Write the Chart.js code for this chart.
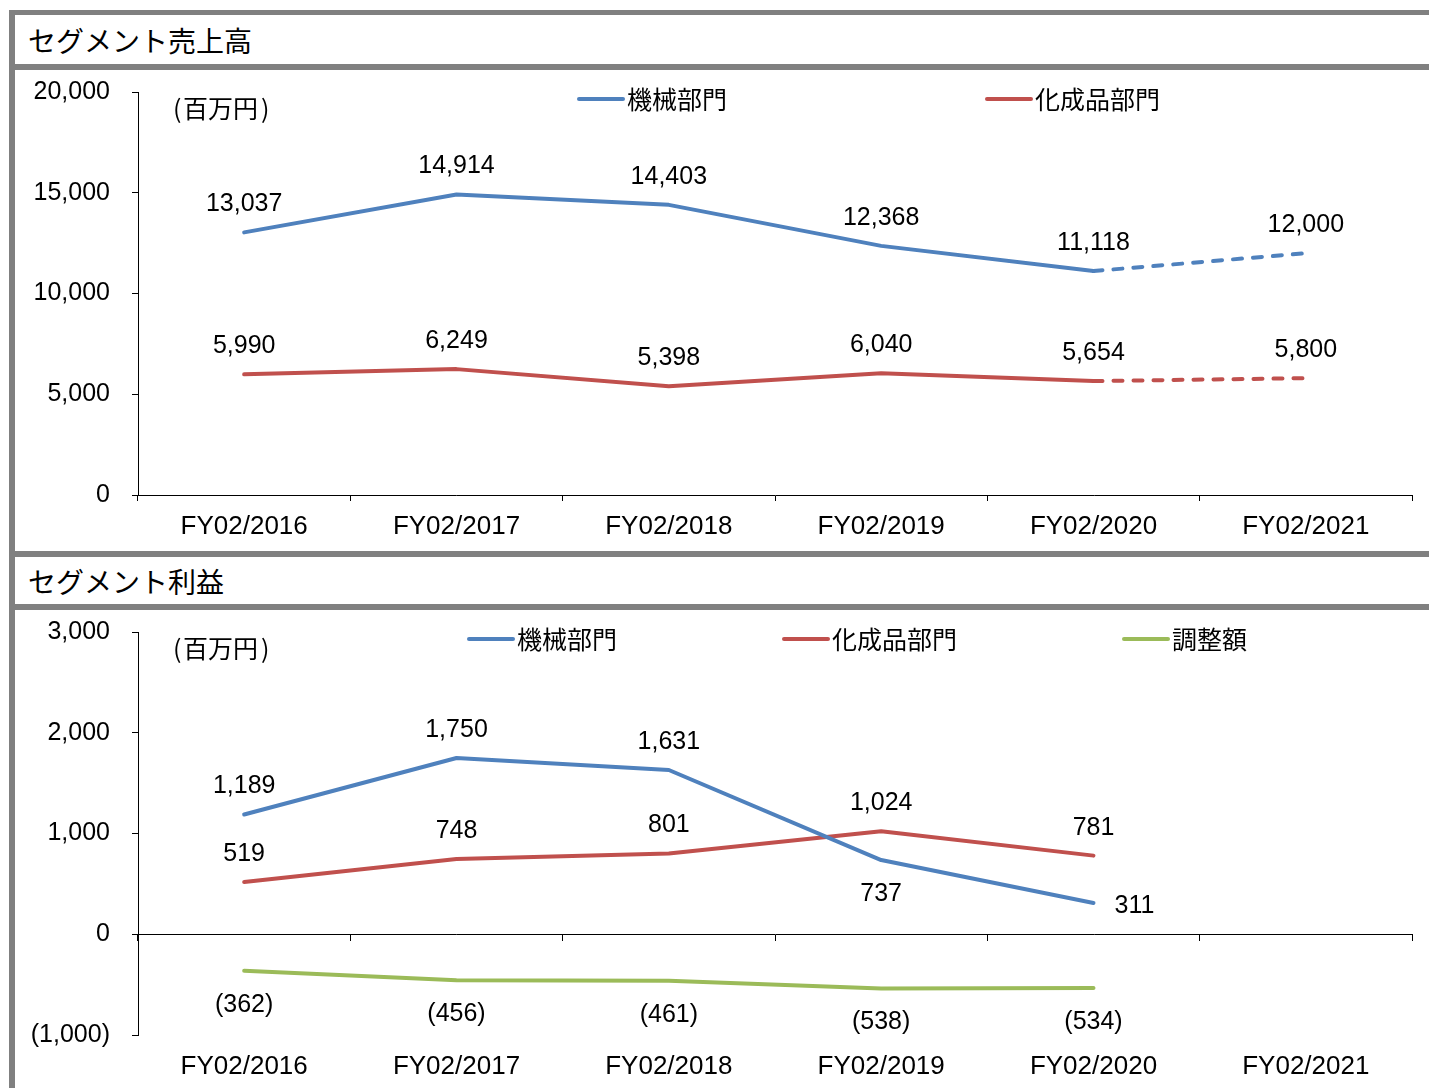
<!DOCTYPE html>
<html>
<head>
<meta charset="utf-8">
<script src="https://cdn.jsdelivr.net/npm/chart.js@4.4.0/dist/chart.umd.min.js"></script>
<style>
  body { margin: 0; background: #fff; width: 1429px; height: 1088px; overflow: hidden; position: relative; }
  .bar { position: absolute; background: #808080; }
  .title { position: absolute; left: 15px; width: 1414px; display: flex; align-items: center;
           font-family: "Noto Sans CJK JP", sans-serif; font-size: 28px; color: #000; padding-left: 13px; box-sizing: border-box; }
  .box { position: absolute; left: 15px; }
  canvas { display: block; }
</style>
</head>
<body>
<div class="bar" style="left:9px; top:10px; width:6px; height:1078px;"></div>
<div class="bar" style="left:9px; top:10px; width:1420px; height:5px;"></div>
<div class="title" style="top:15px; height:49px;">セグメント売上高</div>
<div class="bar" style="left:9px; top:64px; width:1420px; height:6px;"></div>
<div class="box" style="top:70px;"><canvas id="c1" width="1414" height="481"></canvas></div>
<div class="bar" style="left:9px; top:551px; width:1420px; height:6px;"></div>
<div class="title" style="top:557px; height:47px;">セグメント利益</div>
<div class="bar" style="left:9px; top:604px; width:1420px; height:6px;"></div>
<div class="box" style="top:610px;"><canvas id="c2" width="1414" height="478"></canvas></div>

<script>
// データ
const years = ['FY02/2016', 'FY02/2017', 'FY02/2018', 'FY02/2019', 'FY02/2020', 'FY02/2021'];
const seriesNames = ['機械部門', '化成品部門', '調整額'];

// セグメント売上高（百万円）
const salesMachinery = [13037, 14914, 14403, 12368, 11118, 12000];
const salesChemical = [5990, 6249, 5398, 6040, 5654, 5800];

// セグメント利益（百万円）
const profitMachinery = [1189, 1750, 1631, 737, 311, null];
const profitChemical = [519, 748, 801, 1024, 781, null];
const profitAdjust = [-362, -456, -461, -538, -534, null];

const BLUE = '#4F81BD';
const RED = '#C0504D';
const GREEN = '#9BBB59';
const numFont = '"Liberation Sans", Arial, "Noto Sans CJK JP", sans-serif';
const jpFont = '"Noto Sans CJK JP", "Liberation Sans", sans-serif';

function fmt(v) {
  const s = Math.abs(v).toLocaleString('en-US');
  return v < 0 ? '(' + s + ')' : s;
}

// 凡例と単位
const legendPlugin = {
  id: 'segLegend',
  afterDraw(chart, args, opts) {
    const ctx = chart.ctx;
    ctx.save();
    chart.data.datasets.forEach((ds, i) => {
      const x = opts.xs[i];
      ctx.strokeStyle = ds.borderColor;
      ctx.lineWidth = 4;
      ctx.lineCap = 'round';
      ctx.beginPath();
      ctx.moveTo(x + 2, opts.y);
      ctx.lineTo(x + 46, opts.y);
      ctx.stroke();
      ctx.fillStyle = '#000';
      ctx.font = '25px ' + jpFont;
      ctx.textAlign = 'left';
      ctx.textBaseline = 'middle';
      ctx.fillText(ds.label, x + 50, opts.y);
    });
    ctx.font = '25px ' + jpFont;
    ctx.fillText('(', opts.unitX, opts.unitY);
    ctx.fillText('百万円', opts.unitX + 10, opts.unitY);
    ctx.fillText(')', opts.unitX + 88, opts.unitY);
    ctx.restore();
  }
};

// データラベル
const labelPlugin = {
  id: 'valueLabels',
  afterDatasetsDraw(chart, args, opts) {
    const ctx = chart.ctx;
    ctx.save();
    ctx.font = '25px ' + numFont;
    ctx.fillStyle = '#000';
    ctx.textAlign = 'center';
    ctx.textBaseline = 'middle';
    chart.data.datasets.forEach((ds, i) => {
      const meta = chart.getDatasetMeta(i);
      meta.data.forEach((pt, j) => {
        const v = ds.data[j];
        if (v === null || v === undefined) return;
        const place = (opts.place && opts.place[i] && opts.place[i][j]) || 'above';
        let x = pt.x, y = pt.y - 28;
        if (place === 'below') y = pt.y + 34;
        if (place === 'right') { x = pt.x + 41; y = pt.y + 3; }
        ctx.fillText(fmt(v), x, y);
      });
    });
    ctx.restore();
  }
};

function lineSet(label, data, color, dashLast) {
  return {
    label: label,
    data: data,
    borderColor: color,
    backgroundColor: color,
    borderWidth: 4,
    pointRadius: 0,
    pointHoverRadius: 0,
    tension: 0,
    fill: false,
    borderCapStyle: 'round',
    borderJoinStyle: 'round',
    segment: dashLast ? { borderDash: c => c.p1DataIndex === data.length - 1 ? [9, 11] : undefined } : undefined
  };
}

function yScale(min, max, step) {
  return {
    min: min, max: max,
    afterFit: s => { s.width = 123; },
    border: { color: '#000', width: 1 },
    grid: { drawOnChartArea: false, color: '#000', tickLength: 6 },
    // lineHeight を小さくして上端の余白を抑える
    ticks: { stepSize: step, padding: 22, color: '#000', font: { size: 25, family: numFont, lineHeight: 0.01 }, callback: v => fmt(v) }
  };
}

// セグメント売上高
new Chart(document.getElementById('c1'), {
  type: 'line',
  data: {
    labels: years,
    datasets: [
      lineSet(seriesNames[0], salesMachinery, BLUE, true),
      lineSet(seriesNames[1], salesChemical, RED, true)
    ]
  },
  options: {
    responsive: false,
    animation: false,
    layout: { padding: { top: 22, right: 17, left: 0, bottom: 0 } },
    plugins: {
      legend: { display: false },
      tooltip: { enabled: false },
      segLegend: { xs: [562, 970], y: 29, unitX: 158, unitY: 38 },
      valueLabels: {}
    },
    scales: {
      x: {
        offset: true,
        afterFit: s => { s.height = 56; },
        border: { color: '#000', width: 1 },
        grid: { offset: true, drawOnChartArea: false, color: '#000', tickLength: 6 },
        ticks: { padding: 10, color: '#000', maxRotation: 0, font: { size: 26, family: numFont } }
      },
      y: yScale(0, 20000, 5000)
    }
  },
  plugins: [legendPlugin, labelPlugin]
});

// セグメント利益
new Chart(document.getElementById('c2'), {
  type: 'line',
  data: {
    labels: years,
    datasets: [
      lineSet(seriesNames[0], profitMachinery, BLUE, false),
      lineSet(seriesNames[1], profitChemical, RED, false),
      lineSet(seriesNames[2], profitAdjust, GREEN, false)
    ]
  },
  options: {
    responsive: false,
    animation: false,
    layout: { padding: { top: 22, right: 17, left: 0, bottom: 0 } },
    plugins: {
      legend: { display: false },
      tooltip: { enabled: false },
      segLegend: { xs: [452, 767, 1107], y: 29, unitX: 158, unitY: 38 },
      valueLabels: {
        place: [
          ['above', 'above', 'above', 'below', 'right'],
          [],
          ['below', 'below', 'below', 'below', 'below']
        ]
      }
    },
    scales: {
      x: {
        offset: true,
        afterFit: s => { s.height = 53; },
        border: { display: false },
        grid: { display: false, drawTicks: false },
        ticks: { padding: 16, color: '#000', maxRotation: 0, font: { size: 26, family: numFont } }
      },
      // ゼロの位置の横軸
      x2: {
        type: 'category',
        axis: 'x',
        labels: years,
        offset: true,
        position: { y: 0 },
        border: { color: '#000', width: 1 },
        grid: { offset: true, drawOnChartArea: false, color: '#000', tickLength: 6 },
        ticks: { display: false }
      },
      y: yScale(-1000, 3000, 1000)
    }
  },
  plugins: [legendPlugin, labelPlugin]
});
</script>
</body>
</html>
